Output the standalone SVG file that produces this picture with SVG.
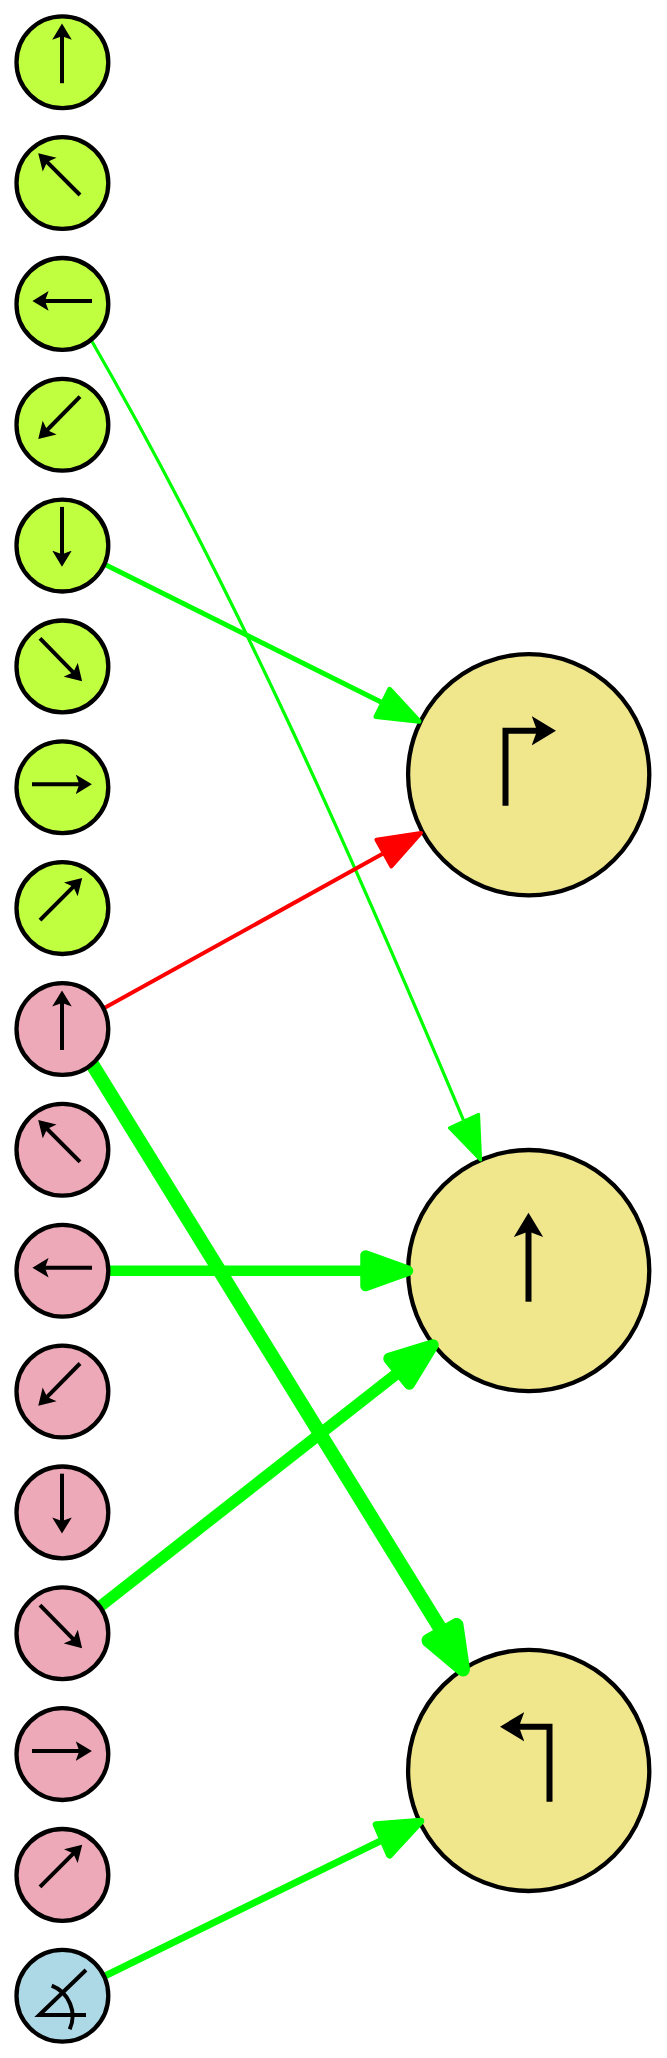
<svg xmlns="http://www.w3.org/2000/svg" width="667" height="2058" viewBox="0 0 667 2058">
<style>
.s{stroke:#000;stroke-width:4.3}
.l{fill:#bfff3f}.p{fill:#eea9b8}.b{fill:#add8e6}.k{fill:#f0e68c}
.g{fill:none;stroke:#000;stroke-width:4;marker-end:url(#ah)}
.gb{fill:none;stroke:#000;stroke-width:6;marker-end:url(#ah)}
.ln{fill:none;stroke-linecap:butt}
.hd{stroke-linejoin:round}
.gr{stroke:#00ff00}.rd{stroke:#ff0000}
.hd.gr{fill:#00ff00}.hd.rd{fill:#ff0000}
</style>
<defs>
<marker id="ah" markerUnits="strokeWidth" markerWidth="4.2" markerHeight="5" refX="1.4" refY="2.5" orient="auto"><path d="M4.05,2.5 L0,0.05 L0.9,2.5 L0,4.95 Z" fill="#000"/></marker>
<path id="gN" class="g" d="M0,21 L0,-28"/>
<path id="gNW" class="g" d="M18,12 L-16.3,-22.3"/>
<path id="gW" class="g" d="M30,-3 L-19,-3"/>
<path id="gSW" class="g" d="M18,-28 L-16.3,6.8"/>
<path id="gS" class="g" d="M0,-38.7 L0,10.6"/>
<path id="gSE" class="g" d="M-22,-28 L12.7,7.4"/>
<path id="gE" class="g" d="M-30,-3 L19.3,-3"/>
<path id="gNE" class="g" d="M-22,12 L12.7,-22.7"/>
</defs>
<g id="big1"><circle class="s k" cx="528.7" cy="774.8" r="120.6"/><path class="gb" d="M505.5,805.7 V730.7 H540.1"/></g>
<g id="big2"><circle class="s k" cx="528.7" cy="1270.6" r="120.6"/><path class="gb" d="M528.5,1301.7 V1228.6"/></g>
<g id="big3"><circle class="s k" cx="528.7" cy="1770.4" r="120.6"/><path class="gb" d="M549.5,1801.7 V1726.7 H515.9"/></g>
<g id="connectors">
<path class="ln gr" stroke-width="3.2" d="M90,338 C236,591 352,856 464,1121.3"/>
<polygon class="hd gr" stroke-width="3.2" points="480.5,1160 449.5,1128 478.5,1114.5"/>
<path class="ln gr" stroke-width="5" d="M98,561 L382.9,703"/>
<polygon class="hd gr" stroke-width="5" points="419,721.3 376,716.6 389.7,689.4"/>
<path class="ln rd" stroke-width="4" d="M98,1011.6 L384,853"/>
<polygon class="hd rd" stroke-width="4" points="421,832.9 391.3,866.4 376.4,839.7"/>
<path class="ln gr" stroke-width="14" d="M85,1052.6 L443,1633"/>
<polygon class="hd gr" stroke-width="14" points="463,1669.5 456.5,1625 428.5,1640.5"/>
<path class="ln gr" stroke-width="10.5" d="M100,1270.7 L365.7,1270.7"/>
<polygon class="hd gr" stroke-width="10.5" points="408,1270.7 365.5,1255.4 365.5,1286"/>
<path class="ln gr" stroke-width="11.5" d="M95,1610.4 L399.6,1371.4"/>
<polygon class="hd gr" stroke-width="11.5" points="433,1345 389,1358.6 409.3,1384"/>
<path class="ln gr" stroke-width="7" d="M98,1979.4 L384.2,1839.1"/>
<polygon class="hd gr" stroke-width="7" points="420.8,1821.2 389.5,1855 376.2,1824.7"/>
</g>
<g id="n1" transform="translate(62,62.2)"><circle class="s l" cx=".4" r="45.9"/><use href="#gN"/></g>
<g id="n2" transform="translate(62,183)"><circle class="s l" cx=".4" r="45.9"/><use href="#gNW"/></g>
<g id="n3" transform="translate(62,303.9)"><circle class="s l" cx=".4" r="45.9"/><use href="#gW"/></g>
<g id="n4" transform="translate(62,424.7)"><circle class="s l" cx=".4" r="45.9"/><use href="#gSW"/></g>
<g id="n5" transform="translate(62,545.6)"><circle class="s l" cx=".4" r="45.9"/><use href="#gS"/></g>
<g id="n6" transform="translate(62,666.4)"><circle class="s l" cx=".4" r="45.9"/><use href="#gSE"/></g>
<g id="n7" transform="translate(62,787.3)"><circle class="s l" cx=".4" r="45.9"/><use href="#gE"/></g>
<g id="n8" transform="translate(62,908.1)"><circle class="s l" cx=".4" r="45.9"/><use href="#gNE"/></g>
<g id="n9" transform="translate(62,1029)"><circle class="s p" cx=".4" r="45.9"/><use href="#gN"/></g>
<g id="n10" transform="translate(62,1149.8)"><circle class="s p" cx=".4" r="45.9"/><use href="#gNW"/></g>
<g id="n11" transform="translate(62,1270.7)"><circle class="s p" cx=".4" r="45.9"/><use href="#gW"/></g>
<g id="n12" transform="translate(62,1391.5)"><circle class="s p" cx=".4" r="45.9"/><use href="#gSW"/></g>
<g id="n13" transform="translate(62,1512.4)"><circle class="s p" cx=".4" r="45.9"/><use href="#gS"/></g>
<g id="n14" transform="translate(62,1633.2)"><circle class="s p" cx=".4" r="45.9"/><use href="#gSE"/></g>
<g id="n15" transform="translate(62,1754.1)"><circle class="s p" cx=".4" r="45.9"/><use href="#gE"/></g>
<g id="n16" transform="translate(62,1874.9)"><circle class="s p" cx=".4" r="45.9"/><use href="#gNE"/></g>
<g id="n17"><circle class="s b" cx="62.4" cy="1995.8" r="45.9"/><path d="M86,1970 L39.3,2015 H86 M51.7,1985.7 A32.5,32.5 0 0 1 69.7,2029.3" fill="none" stroke="#000" stroke-width="4"/></g>
</svg>
